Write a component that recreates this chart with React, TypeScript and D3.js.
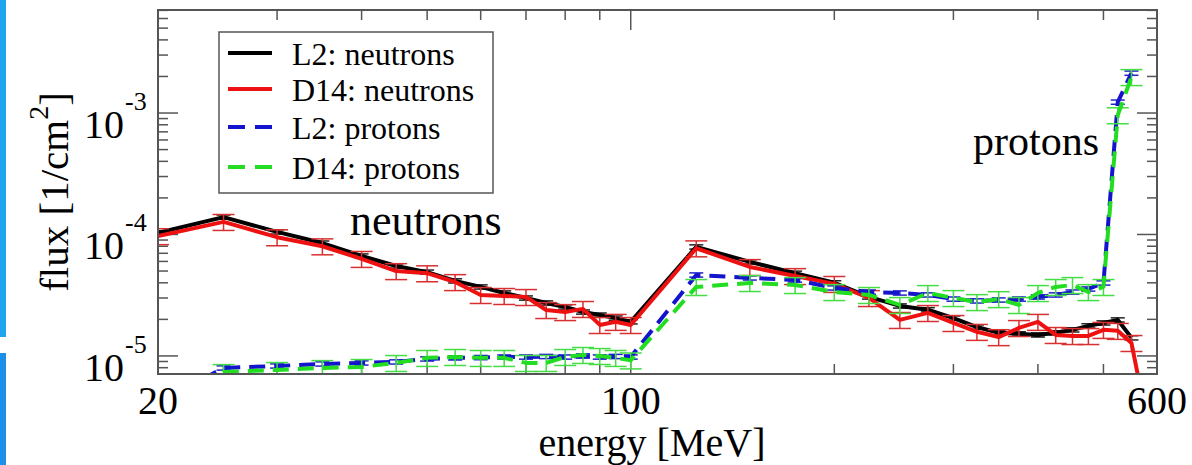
import React from 'react';
import * as d3 from 'd3';

// energies of the bins [MeV]
const energies = [20, 25, 30, 35, 40, 45, 50, 55, 60, 65, 70, 75, 80, 85, 90, 95, 100,
  125, 150, 175, 200, 225, 250, 275, 300, 325, 350, 375, 400, 425, 450, 475, 500, 525, 550];
const energiesD14n = [...energies, 575];

// flux [1/cm^2]
const l2Neutrons = [1.03e-4, 1.39e-4, 1.05e-4, 8.5e-5, 6.65e-5, 5.5e-5, 4.9e-5, 4.15e-5, 3.7e-5,
  3.3e-5, 3.0e-5, 2.73e-5, 2.53e-5, 2.3e-5, 2.17e-5, 2.05e-5, 1.91e-5,
  7.9e-5, 5.95e-5, 4.8e-5, 4.0e-5, 3.06e-5, 2.58e-5, 2.4e-5, 2.05e-5, 1.73e-5, 1.55e-5,
  1.52e-5, 1.49e-5, 1.55e-5, 1.64e-5, 1.77e-5, 1.87e-5, 1.98e-5, 1.41e-5];
const d14Neutrons = [9.7e-5, 1.27e-4, 9.5e-5, 8.0e-5, 6.3e-5, 5.0e-5, 4.8e-5, 4.06e-5, 3.18e-5,
  3.12e-5, 3.06e-5, 2.39e-5, 2.3e-5, 2.44e-5, 1.8e-5, 1.91e-5, 1.8e-5,
  7.7e-5, 5.4e-5, 4.55e-5, 3.92e-5, 3.0e-5, 1.98e-5, 2.26e-5, 1.87e-5, 1.58e-5, 1.43e-5,
  1.7e-5, 1.91e-5, 1.49e-5, 1.46e-5, 1.46e-5, 1.64e-5, 1.61e-5, 1.28e-5, 3.7e-6];
const l2Protons = [4.1e-6, 7.96e-6, 8.27e-6, 8.59e-6, 8.76e-6, 8.93e-6, 9.45e-6, 9.64e-6, 9.7e-6,
  9.8e-6, 9.8e-6, 9.9e-6, 9.8e-6, 1.0e-5, 9.8e-6, 9.9e-6, 9.8e-6,
  4.64e-5, 4.39e-5, 4.22e-5, 3.63e-5, 3.36e-5, 3.3e-5, 3.18e-5, 2.94e-5, 2.84e-5, 2.89e-5,
  2.94e-5, 3.06e-5, 3.18e-5, 3.36e-5, 3.56e-5, 3.99e-5, 1.23e-3, 2.13e-3];
const d14Protons = [3.6e-6, 7.38e-6, 7.67e-6, 7.96e-6, 8.12e-6, 8.76e-6, 9.64e-6, 9.82e-6, 9.64e-6,
  9.64e-6, 8.76e-6, 8.76e-6, 9.82e-6, 1.02e-5, 1.0e-5, 9.64e-6, 9.2e-6,
  3.7e-5, 3.99e-5, 3.84e-5, 3.36e-5, 3.18e-5, 2.63e-5, 3.3e-5, 3.0e-5, 2.78e-5, 2.94e-5,
  2.63e-5, 3.3e-5, 3.7e-5, 3.84e-5, 3.36e-5, 3.7e-5, 9.6e-4, 1.98e-3];

const xLabels = [20, 100, 600];
const legendLabels = ['L2: neutrons', 'D14: neutrons', 'L2: protons', 'D14: protons'];

const W = 1192;
const H = 465;
const left = 158, right = 1157, top = 10, bottom = 374;
const font = 'Liberation Serif, Tinos, Times New Roman, DejaVu Serif, serif';

const x = d3.scaleLog().domain([20, 600]).range([left, right]);
const y = d3.scaleLog().domain([7.1e-6, 7.05e-3]).range([bottom, top]);

const series = [
  { name: legendLabels[0], xs: energies, ys: l2Neutrons, color: '#000000', bar: '#222222', dash: null, err: 0.04, cap: 14 },
  { name: legendLabels[1], xs: energiesD14n, ys: d14Neutrons, color: '#ee1111', bar: '#d83030', dash: null, err: 0.15, cap: 22 },
  { name: legendLabels[2], xs: energies, ys: l2Protons, color: '#1414cc', bar: '#2222cc', dash: '16 9', err: 0.04, cap: 14 },
  { name: legendLabels[3], xs: energies, ys: d14Protons, color: '#22dd22', bar: '#44dd44', dash: '16 9', err: 0.15, cap: 22 },
];

const line = d3.line<[number, number]>().x(d => x(d[0])).y(d => y(d[1]));

const App = () => {
  const yTicks = y.ticks();
  const xTicks = x.ticks();
  const isDecade = (v: number) => Math.abs(Math.log10(v) - Math.round(Math.log10(v))) < 1e-6;

  return (
    <svg width={W} height={H} style={{ position: 'absolute', left: 0, top: 0, background: '#fff' }}>
      <rect x={0} y={0} width={6} height={337} fill="#20a4ee" />
      <rect x={0} y={353} width={6} height={112} fill="#1c8fe8" />
      <defs>
        <clipPath id="plot">
          <rect x={left} y={top} width={right - left} height={bottom - top} />
        </clipPath>
      </defs>

      {/* ticks, inward on all four sides */}
      <g stroke="#555" strokeWidth={1.5}>
        {yTicks.map((t, i) => {
          const len = isDecade(t) ? 20 : 10;
          return (
            <g key={'y' + i}>
              <line x1={left} x2={left + len} y1={y(t)} y2={y(t)} />
              <line x1={right} x2={right - len} y1={y(t)} y2={y(t)} />
            </g>
          );
        })}
        {xTicks.filter(t => t > 20 && t < 600).map((t, i) => {
          const len = t === 100 ? 20 : 10;
          return (
            <g key={'x' + i}>
              <line x1={x(t)} x2={x(t)} y1={bottom} y2={bottom - len} />
              <line x1={x(t)} x2={x(t)} y1={top} y2={top + len} />
            </g>
          );
        })}
      </g>

      {/* data */}
      <g clipPath="url(#plot)" fill="none">
        {series.map((s, si) => {
          const pts = s.xs.map((e, i) => [e, s.ys[i]] as [number, number]);
          return (
            <g key={si}>
              <g stroke={s.bar} strokeWidth={1.5}>
                {pts.map((p, i) => {
                  const px = x(p[0]);
                  const y0 = y(p[1] * (1 - s.err));
                  const y1 = y(p[1] * (1 + s.err));
                  return (
                    <g key={i}>
                      <line x1={px} x2={px} y1={y0} y2={y1} />
                      <line x1={px - s.cap / 2} x2={px + s.cap / 2} y1={y0} y2={y0} />
                      <line x1={px - s.cap / 2} x2={px + s.cap / 2} y1={y1} y2={y1} />
                    </g>
                  );
                })}
              </g>
              <path d={line(pts) || ''} stroke={s.color} strokeWidth={4}
                strokeDasharray={s.dash || undefined} strokeLinejoin="round" />
            </g>
          );
        })}
      </g>

      <rect x={left} y={top} width={right - left} height={bottom - top} fill="none" stroke="#555" strokeWidth={2} />

      {/* y tick labels */}
      {yTicks.filter(isDecade).map((t, i) => (
        <g key={'yl' + i} fontFamily={font} fill="#000">
          <text x={124} y={y(t) + 25} fontSize={40} textAnchor="end">10</text>
          <text x={125} y={y(t) - 3} fontSize={26}>{'-' + Math.round(-Math.log10(t))}</text>
        </g>
      ))}

      {/* x tick labels */}
      {xLabels.map((t, i) => (
        <text key={'xl' + i} x={x(t)} y={414} fontSize={40} fontFamily={font} textAnchor="middle">{t}</text>
      ))}

      <text x={652} y={456} fontSize={40} fontFamily={font} textAnchor="middle">energy [MeV]</text>
      <text transform="translate(68,192) rotate(-90)" fontSize={41} fontFamily={font} textAnchor="middle">
        flux [1/cm<tspan fontSize={28} dy={-20}>2</tspan><tspan dy={20}>]</tspan>
      </text>

      <text x={350} y={235} fontSize={44} fontFamily={font}>neutrons</text>
      <text x={973} y={155} fontSize={42} fontFamily={font}>protons</text>

      {/* legend */}
      <g>
        <rect x={219} y={32} width={274} height={161} fill="#fff" stroke="#555" strokeWidth={1.5} />
        {series.map((s, i) => {
          const ly = [53, 89, 127, 167][i];
          return (
            <g key={'lg' + i}>
              <line x1={228} x2={272} y1={ly} y2={ly} stroke={s.color} strokeWidth={4}
                strokeDasharray={s.dash ? '17 10' : undefined} />
              <text x={292} y={ly + 12} fontSize={32} fontFamily={font}>{s.name}</text>
            </g>
          );
        })}
      </g>
    </svg>
  );
};

export default App;
